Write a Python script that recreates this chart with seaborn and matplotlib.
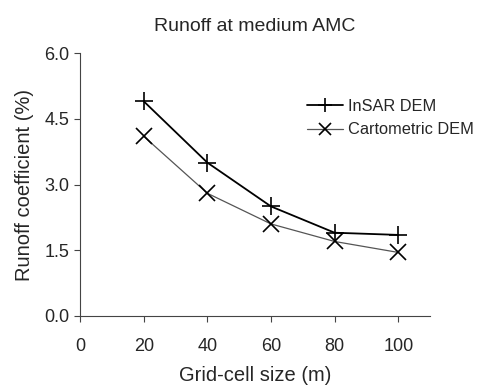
import numpy as np
import seaborn as sns
import matplotlib.pyplot as plt
import pandas as pd

grid_size = [20, 40, 60, 80, 100]
insar = [4.9, 3.5, 2.5, 1.9, 1.85]
cartometric = [4.1, 2.8, 2.1, 1.7, 1.45]

sns.set_style("ticks")
plt.rcParams['font.family'] = ['Liberation Sans', 'DejaVu Sans']

fig = plt.figure(figsize=(4.8, 3.91), dpi=100)
ax = fig.add_axes([0.167, 0.192, 0.729, 0.672])

df = pd.DataFrame({'size': grid_size, 'InSAR DEM': insar, 'Cartometric DEM': cartometric})

sns.lineplot(data=df, x='size', y='InSAR DEM', ax=ax, color='black', lw=1.3,
             marker='+', markersize=13, markeredgewidth=1.2, markeredgecolor='black',
             label='InSAR DEM')
sns.lineplot(data=df, x='size', y='Cartometric DEM', ax=ax, color='#555555', lw=0.9,
             marker='x', markersize=11, markeredgewidth=1.2, markeredgecolor='black',
             label='Cartometric DEM')

ax.set_xlim(0, 110)
ax.set_ylim(0, 6)
ax.set_xticks([0, 20, 40, 60, 80, 100])
ax.set_yticks([0, 1.5, 3.0, 4.5, 6.0])
ax.set_yticklabels(['0.0', '1.5', '3.0', '4.5', '6.0'])
ax.tick_params(axis='both', labelsize=13, length=4, width=0.8, color='#444444')
ax.tick_params(axis='x', pad=12)
sns.despine(ax=ax)
for s in ['left', 'bottom']:
    ax.spines[s].set_color('#444444')
    ax.spines[s].set_linewidth(0.8)

ax.set_title('Runoff at medium AMC', fontsize=14, pad=16)
ax.set_xlabel('Grid-cell size (m)', fontsize=14.5, labelpad=8)
ax.set_ylabel('Runoff coefficient (%)', fontsize=14.5, labelpad=8)

ax.legend(loc='upper left', bbox_to_anchor=(0.63, 0.85), frameon=False, fontsize=11.8,
          handlelength=2.2, handletextpad=0.3, labelspacing=0.5, borderaxespad=0,
          markerscale=0.75)

fig.savefig('out.png', dpi=100)
